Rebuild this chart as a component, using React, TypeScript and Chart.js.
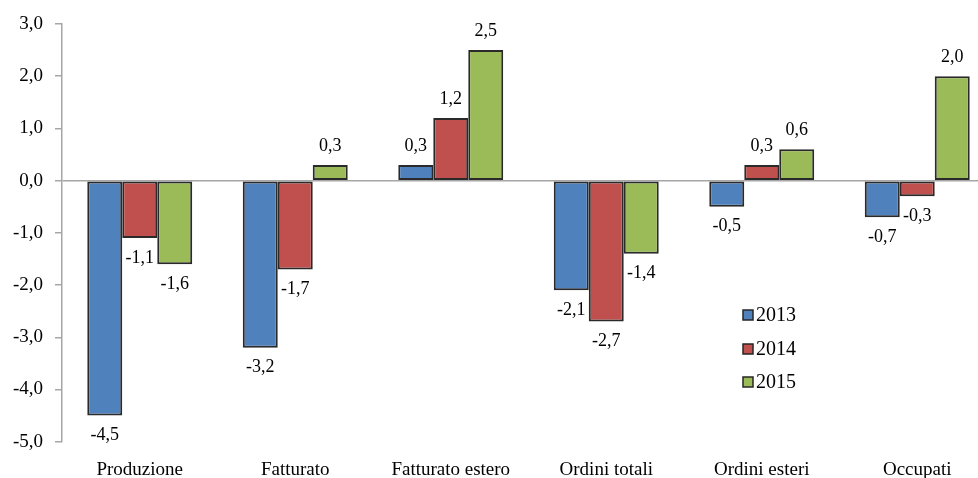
import React, { useEffect, useRef } from "react";
import { Chart, registerables } from "chart.js";

Chart.register(...registerables);

const categories = ["Produzione", "Fatturato", "Fatturato estero", "Ordini totali", "Ordini esteri", "Occupati"];
const seriesNames = ["2013", "2014", "2015"];
const values2013 = [-4.5, -3.2, 0.3, -2.1, -0.5, -0.7];
const values2014 = [-1.1, -1.7, 1.2, -2.7, 0.3, -0.3];
const values2015 = [-1.6, 0.3, 2.5, -1.4, 0.6, 2.0];
const yTicks = [-5, -4, -3, -2, -1, 0, 1, 2, 3];

const colors = ["#4F81BD", "#C0504D", "#9BBB59"];
const FONT = "'Liberation Serif', 'Times New Roman', serif";

const fmt = (v: number) => v.toFixed(1).replace(".", ",");

// The plot area of the original runs past the right edge of the picture.
const extendArea = {
  id: "extendArea",
  afterLayout(chart: any) {
    const extra = 17;
    const x = chart.scales.x;
    chart.chartArea.right += extra;
    chart.chartArea.width += extra;
    x.right += extra;
    x.width += extra;
    x.configure();
  },
};

const valueLabels = {
  id: "valueLabels",
  afterDatasetsDraw(chart: any) {
    const ctx = chart.ctx;
    ctx.save();
    ctx.font = `18px ${FONT}`;
    ctx.fillStyle = "#000";
    ctx.textAlign = "center";
    ctx.textBaseline = "middle";
    chart.data.datasets.forEach((ds: any, di: number) => {
      const meta = chart.getDatasetMeta(di);
      meta.data.forEach((el: any, i: number) => {
        const v = ds.data[i] as number;
        const y = v >= 0 ? el.y - 19 : el.y + 20;
        ctx.fillText(fmt(v), el.x, y);
      });
    });
    ctx.restore();
  },
};

const insideLegend = {
  id: "insideLegend",
  afterDraw(chart: any) {
    const ctx = chart.ctx;
    ctx.save();
    ctx.font = `20px ${FONT}`;
    ctx.textAlign = "left";
    ctx.textBaseline = "middle";
    const rows = [315, 349, 382];
    chart.data.datasets.forEach((ds: any, di: number) => {
      const cy = rows[di];
      ctx.fillStyle = ds.backgroundColor;
      ctx.fillRect(743, cy - 5, 10, 10);
      ctx.strokeStyle = "#262626";
      ctx.lineWidth = 1.5;
      ctx.strokeRect(743, cy - 5, 10, 10);
      ctx.fillStyle = "#000";
      ctx.fillText(ds.label, 756, cy + 1);
    });
    ctx.restore();
  },
};

export default function App() {
  const ref = useRef<HTMLCanvasElement>(null);
  useEffect(() => {
    document.body.style.margin = "0";
    const series = [values2013, values2014, values2015];
    const chart = new Chart(ref.current!, {
      type: "bar",
      data: {
        labels: categories,
        datasets: series.map((d, i) => ({
          label: seriesNames[i],
          data: d,
          backgroundColor: colors[i],
          borderColor: "#2a2a2a",
          borderWidth: 2,
          borderSkipped: false,
          categoryPercentage: 0.675,
          barPercentage: 1,
        })),
      },
      options: {
        animation: false,
        responsive: true,
        maintainAspectRatio: false,
        layout: { padding: { top: 24, left: 0, right: 0, bottom: 0 } },
        plugins: { legend: { display: false }, tooltip: { enabled: false } },
        scales: {
          x: {
            grid: { display: false, drawTicks: false },
            border: { display: false },
            ticks: { font: { family: FONT, size: 19 }, color: "#000", padding: 17, maxRotation: 0, autoSkip: false },
            afterFit: (s: any) => { s.height = 36.3; },
          },
          y: {
            min: -5,
            max: 3,
            afterBuildTicks: (s: any) => { s.ticks = yTicks.map((v) => ({ value: v })); },
            grid: {
              color: (c: any) => (c.tick && c.tick.value === 0 ? "#a6a6a6" : "rgba(0,0,0,0)"),
              lineWidth: 1.5,
              tickColor: "#a6a6a6",
              tickLength: 7,
              drawTicks: true,
            },
            border: { display: true, color: "#a6a6a6", width: 1.5 },
            ticks: {
              font: { family: FONT, size: 19 },
              color: "#000",
              padding: 12,
              callback: (v: any) => fmt(Number(v)),
            },
            afterFit: (s: any) => { s.width = 62; },
          },
        },
      },
      plugins: [extendArea, valueLabels, insideLegend],
    });
    return () => chart.destroy();
  }, []);
  return (
    <div style={{ position: "absolute", left: 0, top: 0, width: 978, height: 478 }}>
      <canvas ref={ref} />
    </div>
  );
}
